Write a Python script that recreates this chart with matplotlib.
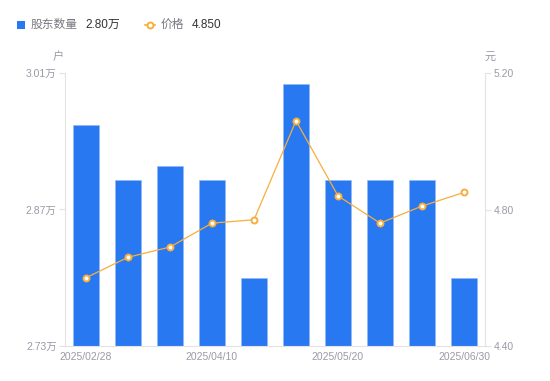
import matplotlib
matplotlib.use("Agg")
import matplotlib.pyplot as plt
from matplotlib.lines import Line2D
from matplotlib.patches import Rectangle

plt.rcParams['font.family'] = ['Liberation Sans', 'Noto Sans CJK SC', 'DejaVu Sans']

dates = ["2025/02/28", "2025/03/10", "2025/03/31", "2025/04/10", "2025/04/30",
         "2025/05/09", "2025/05/20", "2025/05/30", "2025/06/20", "2025/06/30"]
holders = [2.957, 2.90, 2.915, 2.90, 2.80, 2.999, 2.90, 2.90, 2.90, 2.80]  # 万户
price = [4.60, 4.66, 4.69, 4.76, 4.77, 5.06, 4.84, 4.76, 4.81, 4.85]
left_ticks = [2.73, 2.87, 3.01]
right_ticks = [4.40, 4.80, 5.20]
shown_ticks = [0, 3, 6, 9]

W, H = 550, 381
fig = plt.figure(figsize=(W / 100, H / 100), dpi=100)
ax = fig.add_axes([65 / W, (H - 346) / H, (485 - 65) / W, (346 - 73) / H])
ax2 = ax.twinx()

bar_color = "#2878f2"
line_color = "#f7ae3c"
axis_color = "#e3e3e6"
tick_color = "#9a9aa6"

x = list(range(len(dates)))
ax.bar(x, holders, width=0.6, color=bar_color, edgecolor="#8fb8f5", linewidth=0.4, zorder=2)
ax.set_xlim(-0.5, len(dates) - 0.5)
ax.set_ylim(left_ticks[0], left_ticks[-1])
ax.set_yticks(left_ticks)
ax.set_yticklabels([f"{v:.2f}万" for v in left_ticks])
ax.set_xticks([x[i] for i in shown_ticks])
ax.set_xticklabels([dates[i] for i in shown_ticks])

ax2.plot(x, price, color=line_color, linewidth=0.9, marker="o", markersize=4.3,
         markerfacecolor="white", markeredgecolor=line_color, markeredgewidth=1.4, zorder=3)
ax2.set_ylim(right_ticks[0], right_ticks[-1])
ax2.set_yticks(right_ticks)
ax2.set_yticklabels([f"{v:.2f}" for v in right_ticks])

for a in (ax, ax2):
    for s in a.spines.values():
        s.set_visible(False)
    a.tick_params(colors=axis_color, labelcolor=tick_color, labelsize=7.5, length=4, width=0.8)
ax.spines['left'].set_visible(True)
ax.spines['left'].set_color(axis_color)
ax.spines['bottom'].set_visible(True)
ax.spines['bottom'].set_color(axis_color)
ax2.spines['right'].set_visible(True)
ax2.spines['right'].set_color(axis_color)
ax.tick_params(axis='x', length=0, pad=4)
ax.tick_params(axis='y', pad=2)
ax2.tick_params(axis='y', pad=2)

# axis unit labels
fig.text(58 / W, 1 - 57 / H, "户", fontsize=8, color=tick_color, ha="center", va="center")
fig.text(490 / W, 1 - 57 / H, "元", fontsize=8, color=tick_color, ha="center", va="center")

# legend
fig.patches.append(Rectangle((17 / W, 1 - 29 / H), 8 / W, 8 / H, transform=fig.transFigure,
                             facecolor=bar_color, edgecolor="none"))
fig.text(31 / W, 1 - 24.5 / H, "股东数量", fontsize=8.5, color="#777780", ha="left", va="center")
fig.text(85 / W, 1 - 24.5 / H, f"{holders[-1]:.2f}万", fontsize=8.5, color="#333333", ha="left", va="center")
fig.lines.append(Line2D([145 / W, 155 / W], [1 - 24.5 / H, 1 - 24.5 / H], transform=fig.transFigure,
                        color=line_color, linewidth=1.2))
fig.lines.append(Line2D([150 / W], [1 - 24.5 / H], transform=fig.transFigure, marker="o",
                        markersize=4.3, markerfacecolor="white", markeredgecolor=line_color,
                        markeredgewidth=1.4, color=line_color))
fig.text(161 / W, 1 - 24.5 / H, "价格", fontsize=8.5, color="#777780", ha="left", va="center")
fig.text(192 / W, 1 - 24.5 / H, f"{price[-1]:.3f}", fontsize=8.5, color="#333333", ha="left", va="center")

fig.savefig("out.png", dpi=100)
